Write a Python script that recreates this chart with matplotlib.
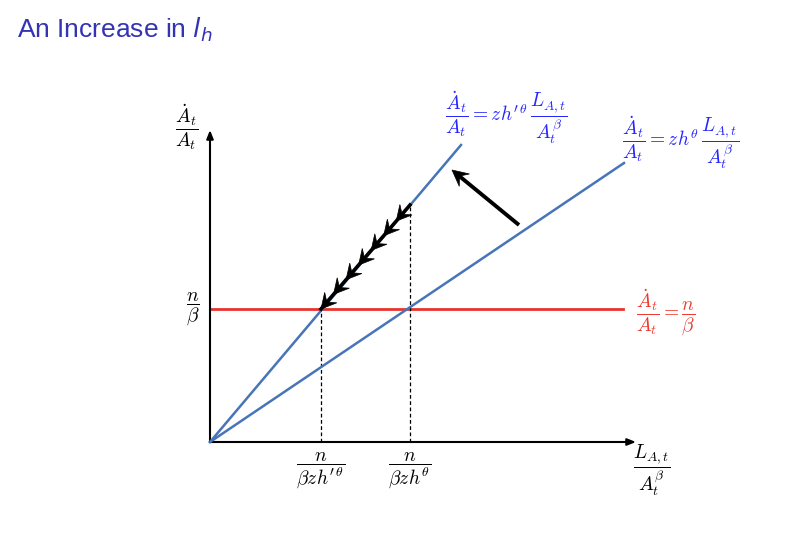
import numpy as np
import matplotlib
matplotlib.use('Agg')
import matplotlib.pyplot as plt
from matplotlib.patches import Polygon

plt.rcParams['mathtext.fontset'] = 'cm'

# data (units ~ pixels from the origin)
n_beta = 133                      # height of n/beta line
red_x = [0, 413]
steep_x = [0, 251]
steep_y = [0, 297]
flat_x = [0, 414]
flat_y = [0, 279]
x_star_new = 111                  # n / (beta z h'^theta)
x_star_old = 200                  # n / (beta z h^theta)
y_top_dash = 237                  # where the old x* meets the steep line
x_axis_end = 426
y_axis_end = 312
big_arrow_from = (309, 217)
big_arrow_to = (242, 272)
n_chevrons = 7

blue_line = '#4775b8'
red_line = '#e8342a'
blue_txt = '#2626ff'
red_txt = '#ee3b2f'

fig = plt.figure(figsize=(7.87, 5.46), dpi=100)
ax = fig.add_axes([0, 0, 1, 1])
ax.set_xlim(-210, 577)
ax.set_ylim(-104, 442)
ax.axis('off')

fig.text(17 / 787, 1 - 37 / 546, r'An Increase in $l_h$', color='#3333b3',
         fontsize=19, va='baseline', ha='left', family='Liberation Sans',
         math_fontfamily='dejavusans')

# axes
ax.annotate('', xy=(0, y_axis_end), xytext=(0, 0),
            arrowprops=dict(arrowstyle='-|>,head_length=0.5,head_width=0.2', lw=1.5, color='black',
                            shrinkA=0, shrinkB=0))
ax.annotate('', xy=(x_axis_end, 0), xytext=(0, 0),
            arrowprops=dict(arrowstyle='-|>,head_length=0.5,head_width=0.2', lw=1.5, color='black',
                            shrinkA=0, shrinkB=0))

# lines
ax.plot(red_x, [n_beta, n_beta], color=red_line, lw=2, zorder=2)
ax.plot(steep_x, steep_y, color=blue_line, lw=1.8, zorder=3)
ax.plot(flat_x, flat_y, color=blue_line, lw=1.8, zorder=3)

ax.plot([x_star_new, x_star_new], [0, n_beta], color='black', lw=0.9, ls=(0, (3, 2)))
ax.plot([x_star_old, x_star_old], [0, y_top_dash], color='black', lw=0.9, ls=(0, (3, 2)))


def stealth(tip, direction, length, half_w):
    u = np.asarray(direction, float)
    u = u / np.hypot(*u)
    nrm = np.array([-u[1], u[0]])
    tip = np.asarray(tip, float)
    pts = [tip,
           tip - length * u + half_w * nrm,
           tip - 0.6 * length * u,
           tip - length * u - half_w * nrm]
    ax.add_patch(Polygon(pts, closed=True, facecolor='black', edgecolor='black',
                         lw=0.5, zorder=5))


# chevron chain sliding down the new line
p0 = np.array([x_star_old, y_top_dash])
p1 = np.array([x_star_new, n_beta])
ax.plot([p0[0], p1[0]], [p0[1], p1[1]], color='black', lw=2.6, zorder=4)
for k in range(n_chevrons):
    t = 1 - k / (n_chevrons + 0.1)
    stealth(p0 + t * (p1 - p0), p1 - p0, 15, 8)

# big shift arrow
ax.plot([big_arrow_from[0], big_arrow_to[0] + 6], [big_arrow_from[1], big_arrow_to[1] - 5],
        color='black', lw=2.8, zorder=4, solid_capstyle='butt')
stealth(big_arrow_to, np.subtract(big_arrow_to, big_arrow_from), 16, 8)

# labels
fs = 14
ax.text(-23, 315, r'$\dfrac{\dot{A}_t}{A_t}$', fontsize=fs, ha='center', va='center')
ax.text(-17, 133, r'$\dfrac{n}{\beta}$', fontsize=fs, ha='center', va='center')
ax.text(442, -28, r'$\dfrac{L_{A,t}}{A_t^{\beta}}$', fontsize=fs, ha='center', va='center')
ax.text(x_star_new, -28, r"$\dfrac{n}{\beta z h'^{\theta}}$", fontsize=fs, ha='center', va='center')
ax.text(x_star_old, -28, r'$\dfrac{n}{\beta z h^{\theta}}$', fontsize=fs, ha='center', va='center')

ax.text(235, 324, r"$\dfrac{\dot{A}_t}{A_t} = z h'^{\theta}\,\dfrac{L_{A,t}}{A_t^{\beta}}$",
        fontsize=fs, color=blue_txt, ha='left', va='center')
ax.text(412, 299, r'$\dfrac{\dot{A}_t}{A_t} = z h^{\theta}\,\dfrac{L_{A,t}}{A_t^{\beta}}$',
        fontsize=fs, color=blue_txt, ha='left', va='center')
ax.text(426, 130, r'$\dfrac{\dot{A}_t}{A_t} = \dfrac{n}{\beta}$',
        fontsize=fs, color=red_txt, ha='left', va='center')

fig.savefig('out.png', dpi=100)
